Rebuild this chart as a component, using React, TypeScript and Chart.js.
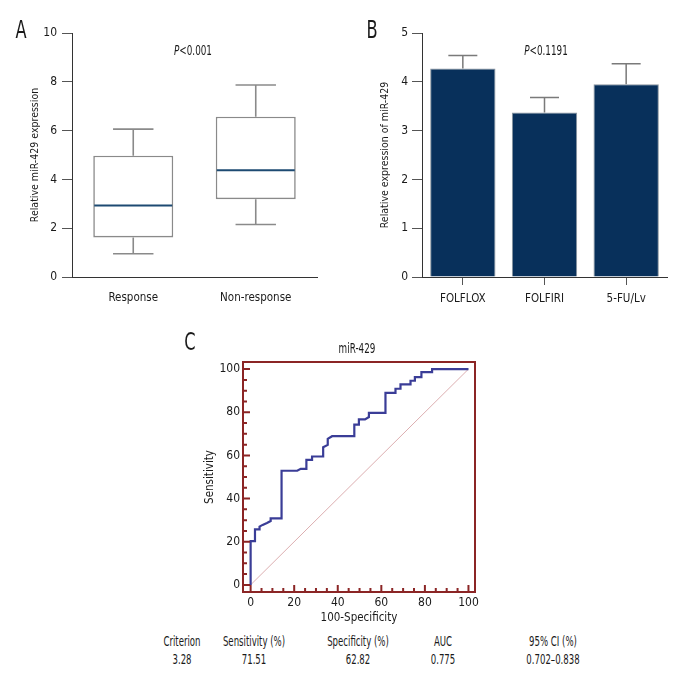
import React, { useEffect, useRef } from 'react';
import { Chart, registerables } from 'chart.js';

Chart.register(...registerables);

// ---------- Data ----------
const groupLabels = ['Response', 'Non-response'];
const boxMin = [0.95, 2.15];
const boxQ1 = [1.62, 3.19];
const boxMedian = [2.93, 4.37];
const boxQ3 = [4.97, 6.57];
const boxMax = [6.06, 7.87];
const yTicksA = [0, 2, 4, 6, 8, 10];

const regimenLabels = ['FOLFLOX', 'FOLFIRI', '5-FU/Lv'];
const regimenMeans = [4.27, 3.37, 3.95];
const regimenErr = [0.27, 0.31, 0.42];
const yTicksB = [0, 1, 2, 3, 4, 5];

const rocX = [0, 0, 2, 2, 4.1, 4.1, 5.5, 7.5, 9.2, 9.2, 14.2, 14.2, 21.4, 23, 25.6, 25.6, 28.2, 28.2, 33.3, 33.3, 35.4, 35.4, 37.4, 47.6, 47.6, 49.7, 49.7, 52.5, 54.3, 54.3, 61.9, 61.9, 66.5, 66.5, 68.8, 68.8, 73.4, 73.4, 75.4, 75.4, 78.4, 78.4, 83.3, 83.3, 100];
const rocY = [0, 20.3, 20.3, 25.7, 25.7, 27, 27.8, 28.7, 29.6, 30.8, 30.8, 52.9, 52.9, 53.8, 53.8, 57.9, 57.9, 59.5, 59.5, 63.8, 64.9, 67.7, 68.9, 68.9, 74.3, 74.3, 76.7, 76.7, 77.8, 79.7, 79.7, 89, 89, 90.9, 90.9, 92.9, 92.9, 94.6, 94.6, 96.3, 96.3, 98.6, 98.6, 100, 100];
const diagX = [0, 100];
const diagY = [0, 100];
const rocTicks = [0, 20, 40, 60, 80, 100];
const rocMinorTicks = [0, 5, 10, 15, 20, 25, 30, 35, 40, 45, 50, 55, 60, 65, 70, 75, 80, 85, 90, 95, 100];

const tableHeaders = ['Criterion', 'Sensitivity (%)', 'Specificity (%)', 'AUC', '95% CI (%)'];
const tableValues = ['3.28', '71.51', '62.82', '0.775', '0.702\u20130.838'];

// ---------- Styles ----------
const FONT = '"Liberation Sans Narrow", "DejaVu Sans Condensed", "Roboto Condensed", "Liberation Sans", sans-serif';
const TXT = '#1a1a1a';
const numFont = { family: FONT, size: 12 };
const catFont = { family: FONT, size: 11.5 };
const titleFont = { family: FONT, size: 10.5 };

const boxPlugin = {
  id: 'boxWhiskers',
  afterDatasetsDraw(chart: any) {
    const { ctx } = chart;
    const xs = chart.scales.x;
    const ys = chart.scales.y;
    const meta = chart.getDatasetMeta(0);
    const capHalf = (xs.width / groupLabels.length) * 0.165;
    ctx.save();
    groupLabels.forEach((_, i) => {
      const cx = xs.getPixelForValue(i);
      const half = meta.data[i].width / 2;
      ctx.strokeStyle = '#8a8a8a';
      ctx.lineWidth = 1.6;
      ctx.beginPath();
      const pMax = ys.getPixelForValue(boxMax[i]);
      const pMin = ys.getPixelForValue(boxMin[i]);
      ctx.moveTo(cx, ys.getPixelForValue(boxQ3[i]));
      ctx.lineTo(cx, pMax);
      ctx.moveTo(cx - capHalf, pMax);
      ctx.lineTo(cx + capHalf, pMax);
      ctx.moveTo(cx, ys.getPixelForValue(boxQ1[i]));
      ctx.lineTo(cx, pMin);
      ctx.moveTo(cx - capHalf, pMin);
      ctx.lineTo(cx + capHalf, pMin);
      ctx.stroke();
      ctx.strokeStyle = '#1d4a72';
      ctx.lineWidth = 2;
      ctx.beginPath();
      const pMed = ys.getPixelForValue(boxMedian[i]);
      ctx.moveTo(cx - half + 1, pMed);
      ctx.lineTo(cx + half - 1, pMed);
      ctx.stroke();
    });
    ctx.restore();
  },
};

const errPlugin = {
  id: 'errorBars',
  afterDatasetsDraw(chart: any) {
    const { ctx } = chart;
    const xs = chart.scales.x;
    const ys = chart.scales.y;
    const capHalf = 14.5;
    ctx.save();
    ctx.strokeStyle = '#7a7a7a';
    ctx.lineWidth = 1.5;
    regimenLabels.forEach((_, i) => {
      const cx = xs.getPixelForValue(i);
      const top = ys.getPixelForValue(regimenMeans[i] + regimenErr[i]);
      const base = ys.getPixelForValue(regimenMeans[i]);
      ctx.beginPath();
      ctx.moveTo(cx, base);
      ctx.lineTo(cx, top);
      ctx.moveTo(cx - capHalf, top);
      ctx.lineTo(cx + capHalf, top);
      ctx.stroke();
    });
    ctx.restore();
  },
};

const framePlugin = {
  id: 'rocFrame',
  afterDatasetsDraw(chart: any) {
    const { ctx, chartArea } = chart;
    const xs = chart.scales.x;
    const ys = chart.scales.y;
    ctx.save();
    ctx.strokeStyle = '#8b2525';
    ctx.lineWidth = 2;
    ctx.strokeRect(chartArea.left, chartArea.top, chartArea.right - chartArea.left, chartArea.bottom - chartArea.top);
    ctx.beginPath();
    rocMinorTicks.forEach((v) => {
      const len = v % 20 === 0 ? 7 : 4;
      const py = ys.getPixelForValue(v);
      ctx.moveTo(chartArea.left, py);
      ctx.lineTo(chartArea.left + len, py);
      const px = xs.getPixelForValue(v);
      ctx.moveTo(px, chartArea.bottom);
      ctx.lineTo(px, chartArea.bottom - len);
    });
    ctx.stroke();
    ctx.restore();
  },
};

function useChart(ref: React.RefObject<HTMLCanvasElement>, make: (ctx: CanvasRenderingContext2D) => Chart) {
  useEffect(() => {
    if (!ref.current) return;
    const ctx = ref.current.getContext('2d')!;
    const c = make(ctx);
    return () => c.destroy();
  }, []);
}

const abs = (left: number, top: number, extra: React.CSSProperties = {}, sx = 0.7): React.CSSProperties => ({
  position: 'absolute',
  left,
  top,
  transform: `translate(-50%, -50%) scaleX(${sx})`,
  whiteSpace: 'nowrap',
  fontFamily: FONT,
  color: TXT,
  fontSize: 14,
  lineHeight: 1,
  ...extra,
});

export default function App() {
  const refA = useRef<HTMLCanvasElement>(null);
  const refB = useRef<HTMLCanvasElement>(null);
  const refC = useRef<HTMLCanvasElement>(null);

  useChart(refA, (ctx) =>
    new Chart(ctx, {
      type: 'bar',
      data: {
        labels: groupLabels,
        datasets: [
          {
            data: groupLabels.map((_, i) => [boxQ1[i], boxQ3[i]]),
            backgroundColor: '#ffffff',
            borderColor: '#8a8a8a',
            borderWidth: 1.6,
            borderSkipped: false,
            barPercentage: 0.653,
            categoryPercentage: 1,
          } as any,
        ],
      },
      options: {
        animation: false,
        responsive: false,
        maintainAspectRatio: false,
        layout: { padding: { left: 0, top: 33, right: 31, bottom: 0 } },
        plugins: { legend: { display: false }, tooltip: { enabled: false } },
        scales: {
          x: {
            grid: { display: true, drawOnChartArea: false, drawTicks: false },
            border: { color: '#333', width: 1 },
            ticks: { padding: 14, color: TXT, font: catFont },
            afterFit: (s: any) => { s.height = 43; },
          },
          y: {
            min: 0,
            max: 10,
            afterBuildTicks: (s: any) => { s.ticks = yTicksA.map((v) => ({ value: v })); },
            ticks: { padding: 5, color: TXT, font: numFont },
            grid: { drawOnChartArea: false, drawTicks: true, tickLength: 10, color: '#555' },
            border: { color: '#333', width: 1 },
            title: { display: true, text: 'Relative miR-429 expression', color: TXT, font: titleFont, padding: { top: 29, bottom: 0 } },
            afterFit: (s: any) => { s.width = 72; },
          },
        },
      } as any,
      plugins: [boxPlugin],
    })
  );

  useChart(refB, (ctx) =>
    new Chart(ctx, {
      type: 'bar',
      data: {
        labels: regimenLabels,
        datasets: [
          {
            data: regimenMeans,
            backgroundColor: '#08305b',
            borderColor: '#8a949e',
            borderWidth: 1,
            barPercentage: 0.8,
            categoryPercentage: 1,
          } as any,
        ],
      },
      options: {
        animation: false,
        responsive: false,
        maintainAspectRatio: false,
        layout: { padding: { left: 0, top: 33, right: 29, bottom: 0 } },
        plugins: { legend: { display: false }, tooltip: { enabled: false } },
        scales: {
          x: {
            grid: { display: true, offset: false, drawOnChartArea: false, drawTicks: true, tickLength: 8, color: '#555' },
            border: { color: '#333', width: 1 },
            ticks: { padding: 7, color: TXT, font: catFont },
            afterFit: (s: any) => { s.height = 43; },
          },
          y: {
            min: 0,
            max: 5,
            afterBuildTicks: (s: any) => { s.ticks = yTicksB.map((v) => ({ value: v })); },
            ticks: { padding: 4, color: TXT, font: numFont },
            grid: { drawOnChartArea: false, drawTicks: true, tickLength: 10, color: '#555' },
            border: { color: '#333', width: 1 },
            title: { display: true, text: 'Relative expression of miR-429', color: TXT, font: titleFont, padding: { top: 31, bottom: 0 } },
            afterFit: (s: any) => { s.width = 74; },
          },
        },
      } as any,
      plugins: [errPlugin],
    })
  );

  useChart(refC, (ctx) =>
    new Chart(ctx, {
      type: 'line',
      data: {
        datasets: [
          {
            data: rocX.map((x, i) => ({ x, y: rocY[i] })),
            borderColor: '#3a3d97',
            borderWidth: 2.2,
            pointRadius: 0,
            fill: false,
            tension: 0,
          },
          {
            data: diagX.map((x, i) => ({ x, y: diagY[i] })),
            borderColor: '#dcaeb0',
            borderWidth: 1,
            pointRadius: 0,
            fill: false,
            tension: 0,
          },
        ],
      },
      options: {
        animation: false,
        responsive: false,
        maintainAspectRatio: false,
        layout: { padding: { left: 0, top: 42, right: 25, bottom: 0 } },
        plugins: { legend: { display: false }, tooltip: { enabled: false } },
        scales: {
          x: {
            type: 'linear',
            min: -3.5,
            max: 103,
            afterBuildTicks: (s: any) => { s.ticks = rocTicks.map((v) => ({ value: v })); },
            ticks: { padding: 4, color: TXT, font: numFont, autoSkip: false, maxRotation: 0 },
            grid: { display: false, drawTicks: false },
            border: { display: false },
            title: { display: true, text: '100-Specificity', color: TXT, font: { family: FONT, size: 11.5 }, padding: { top: 0, bottom: 5 } },
            afterFit: (s: any) => { s.height = 38; },
          },
          y: {
            type: 'linear',
            min: -3.3,
            max: 103.3,
            afterBuildTicks: (s: any) => { s.ticks = rocTicks.map((v) => ({ value: v })); },
            ticks: { padding: 3, color: TXT, font: numFont },
            grid: { display: false, drawTicks: false },
            border: { display: false },
            title: { display: true, text: 'Sensitivity', color: TXT, font: { family: FONT, size: 11.5 }, padding: { top: 43, bottom: 0 } },
            afterFit: (s: any) => { s.width = 83; },
          },
        },
      } as any,
      plugins: [framePlugin],
    })
  );

  const colX = [182, 254, 358, 443, 553];

  return (
    <div style={{ position: 'fixed', left: 0, top: 0, width: 696, height: 696, background: '#ffffff', overflow: 'hidden' }}>
      <canvas ref={refA} width={348} height={320} style={{ position: 'absolute', left: 0, top: 0, width: 348, height: 320 }} />
      <canvas ref={refB} width={348} height={320} style={{ position: 'absolute', left: 348, top: 0, width: 348, height: 320 }} />
      <canvas ref={refC} width={340} height={310} style={{ position: 'absolute', left: 160, top: 320, width: 340, height: 310 }} />

      <div style={abs(21, 30, { fontSize: 24 }, 0.75)}>A</div>
      <div style={abs(372, 30, { fontSize: 24 }, 0.75)}>B</div>
      <div style={abs(190, 342, { fontSize: 24 }, 0.75)}>C</div>

      <div style={abs(193, 50)}><i>P</i>&lt;0.001</div>
      <div style={abs(546, 50)}><i>P</i>&lt;0.1191</div>
      <div style={abs(357, 348)}>miR-429</div>

      {tableHeaders.map((h, i) => (
        <div key={'h' + i} style={abs(colX[i], 641, {}, 0.68)}>{h}</div>
      ))}
      {tableValues.map((v, i) => (
        <div key={'v' + i} style={abs(colX[i], 659, {}, 0.68)}>{v}</div>
      ))}
    </div>
  );
}
